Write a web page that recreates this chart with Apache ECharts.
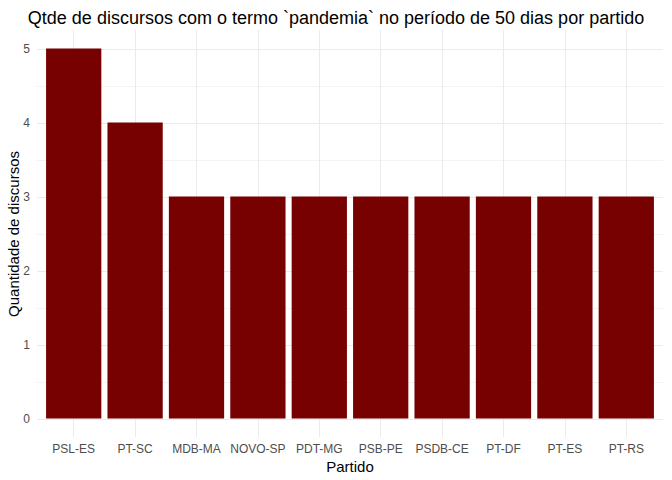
<!DOCTYPE html>
<html>
<head>
<meta charset="utf-8">
<script src="https://cdn.jsdelivr.net/npm/echarts@6/dist/echarts.min.js"></script>
<style>
  html, body { margin: 0; padding: 0; background: #fff; }
  #chart { width: 672px; height: 480px; }
</style>
</head>
<body>
<div id="chart"></div>
<script>
var partidos = ['PSL-ES', 'PT-SC', 'MDB-MA', 'NOVO-SP', 'PDT-MG', 'PSB-PE', 'PSDB-CE', 'PT-DF', 'PT-ES', 'PT-RS'];
var discursos = [5, 4, 3, 3, 3, 3, 3, 3, 3, 3];

var font = 'Liberation Sans, Arial, sans-serif';
var grid = '#ebebeb';
var tickText = '#4d4d4d';

var chart = echarts.init(document.getElementById('chart'), null, { renderer: 'svg' });

chart.setOption({
  animation: false,
  backgroundColor: '#ffffff',
  title: {
    text: 'Qtde de discursos com o termo `pandemia` no período de 50 dias por partido',
    left: 'center',
    top: 4,
    textStyle: { fontFamily: font, fontSize: 18, fontWeight: 'normal', color: '#000' }
  },
  grid: [
    // horizontal grid lines + y labels (0..5)
    { left: 37, right: 9, top: 49, bottom: 61, outerBoundsMode: 'none' },
    // bars + vertical grid lines + x labels
    { left: 43, right: 15, top: 30, bottom: 43, outerBoundsMode: 'none' }
  ],
  xAxis: [
    { gridIndex: 0, type: 'value', show: false, min: 0, max: 1 },
    {
      gridIndex: 1,
      type: 'category',
      data: partidos,
      name: 'Partido',
      nameLocation: 'middle',
      nameGap: 22,
      nameMoveOverlap: false,
      nameTextStyle: { fontFamily: font, fontSize: 15, color: '#000' },
      axisLine: { show: false },
      axisTick: { show: false },
      axisLabel: { fontFamily: font, fontSize: 12, color: tickText, margin: 6, interval: 0 },
      splitLine: { show: true, alignWithLabel: true, lineStyle: { color: grid, width: 1 } }
    }
  ],
  yAxis: [
    {
      gridIndex: 0,
      type: 'value',
      min: 0,
      max: 5,
      interval: 1,
      name: 'Quantidade de discursos',
      nameLocation: 'middle',
      nameGap: 16,
      nameMoveOverlap: false,
      nameTextStyle: { fontFamily: font, fontSize: 15, color: '#000' },
      axisLine: { show: false },
      axisTick: { show: false },
      axisLabel: { fontFamily: font, fontSize: 12, color: tickText, margin: 7, hideOverlap: false },
      splitLine: { show: true, lineStyle: { color: grid, width: 1 } },
      minorTick: { show: false, splitNumber: 2 },
      minorSplitLine: { show: true, lineStyle: { color: '#f3f3f3', width: 1 } }
    },
    {
      gridIndex: 1,
      type: 'value',
      min: -0.25,
      max: 5.25,
      show: false,
      splitLine: { show: false }
    }
  ],
  series: [
    {
      type: 'bar',
      xAxisIndex: 1,
      yAxisIndex: 1,
      data: discursos,
      barWidth: '90%',
      itemStyle: { color: '#770000' }
    }
  ]
});
</script>
</body>
</html>
